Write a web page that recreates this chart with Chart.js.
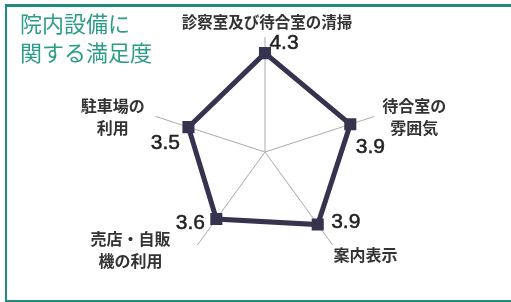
<!DOCTYPE html>
<html>
<head>
<meta charset="utf-8">
<script src="https://cdn.jsdelivr.net/npm/chart.js@4/dist/chart.umd.min.js"></script>
<style>
  html, body { margin: 0; padding: 0; background: #fff; }
  #wrap { position: relative; width: 511px; height: 302px; overflow: hidden; }
  #frame {
    position: absolute; left: 5px; top: 4px; width: 520px; height: 293px;
    border-left: 2px solid #1f8c7c; border-top: 3px solid #1f8c7c; border-bottom: 3px solid #1f8c7c;
  }
  #title {
    position: absolute; left: 20px; top: 8px;
    font-family: "Noto Sans CJK JP", sans-serif; font-size: 22px; line-height: 29px;
    color: #2b9c88;
  }
  canvas { position: absolute; left: 0; top: 0; }
</style>
</head>
<body>
<div id="wrap">
  <div id="frame"></div>
  <canvas id="radar" width="511" height="302"></canvas>
  <div id="title">院内設備に<br>関する満足度</div>
</div>
<script>
  // satisfaction with facilities (5 point scale)
  const categories = [
    ["診察室及び待合室の清掃"],
    ["待合室の", "雰囲気"],
    ["案内表示"],
    ["売店・自販", "機の利用"],
    ["駐車場の", "利用"]
  ];
  const scores = [4.3, 3.9, 3.9, 3.6, 3.5];
  const scaleMin = 0, scaleMax = 5;

  // label placement tweaks (px), relative to axis end / data point
  const catOffsets = [[2, -15, "center"], [40, 0, "center"], [1, 10, "left"], [-67, 5, "center"], [-43, 0, "center"]];
  const valOffsets = [[19, -10], [20, 23], [28, -2], [-26, 4], [-23, 16]];

  const labelPlugin = {
    id: "radarLabels",
    afterDatasetsDraw(chart) {
      const ctx = chart.ctx;
      const r = chart.scales.r;
      ctx.save();
      ctx.fillStyle = "#333";
      ctx.textBaseline = "middle";
      categories.forEach((lines, i) => {
        const p = r.getPointPosition(i, r.drawingArea);
        const [dx, dy, align] = catOffsets[i];
        ctx.font = (i === 0 ? "bold 15.5px" : "bold 16px") + " 'Noto Sans CJK JP', sans-serif";
        ctx.textAlign = align;
        const lh = 22;
        const y0 = p.y + dy - (lines.length - 1) * lh / 2;
        lines.forEach((t, k) => ctx.fillText(t, p.x + dx, y0 + k * lh));
      });
      ctx.fillStyle = "#222";
      ctx.textAlign = "center";
      ctx.font = "21px 'Liberation Sans', Arial, sans-serif";
      scores.forEach((v, i) => {
        const p = r.getPointPositionForValue(i, v);
        const x = p.x + valOffsets[i][0], y = p.y + valOffsets[i][1];
        ctx.strokeStyle = "#222";
        ctx.lineWidth = 0.5;
        ctx.strokeText(v.toFixed(1), x, y);
        ctx.fillText(v.toFixed(1), x, y);
      });
      ctx.restore();
    }
  };

  new Chart(document.getElementById("radar"), {
    type: "radar",
    data: {
      labels: categories.map(c => c.join("")),
      datasets: [{
        data: scores,
        borderColor: "#36334f",
        borderWidth: 5,
        backgroundColor: "rgba(0,0,0,0)",
        fill: false,
        pointStyle: "rect",
        pointRadius: 5,
        pointBackgroundColor: "#36334f",
        pointBorderColor: "#36334f",
        borderJoinStyle: "miter"
      }]
    },
    options: {
      responsive: false,
      animation: false,
      layout: { padding: { left: 150, right: 131, top: 37, bottom: 35 } },
      plugins: { legend: { display: false }, tooltip: { enabled: false } },
      scales: {
        r: {
          min: scaleMin,
          max: scaleMax,
          ticks: { display: false, stepSize: 1 },
          grid: { display: false },
          angleLines: { color: "#aaaaaa", lineWidth: 1 },
          pointLabels: { display: false }
        }
      }
    },
    plugins: [labelPlugin]
  });
</script>
</body>
</html>
